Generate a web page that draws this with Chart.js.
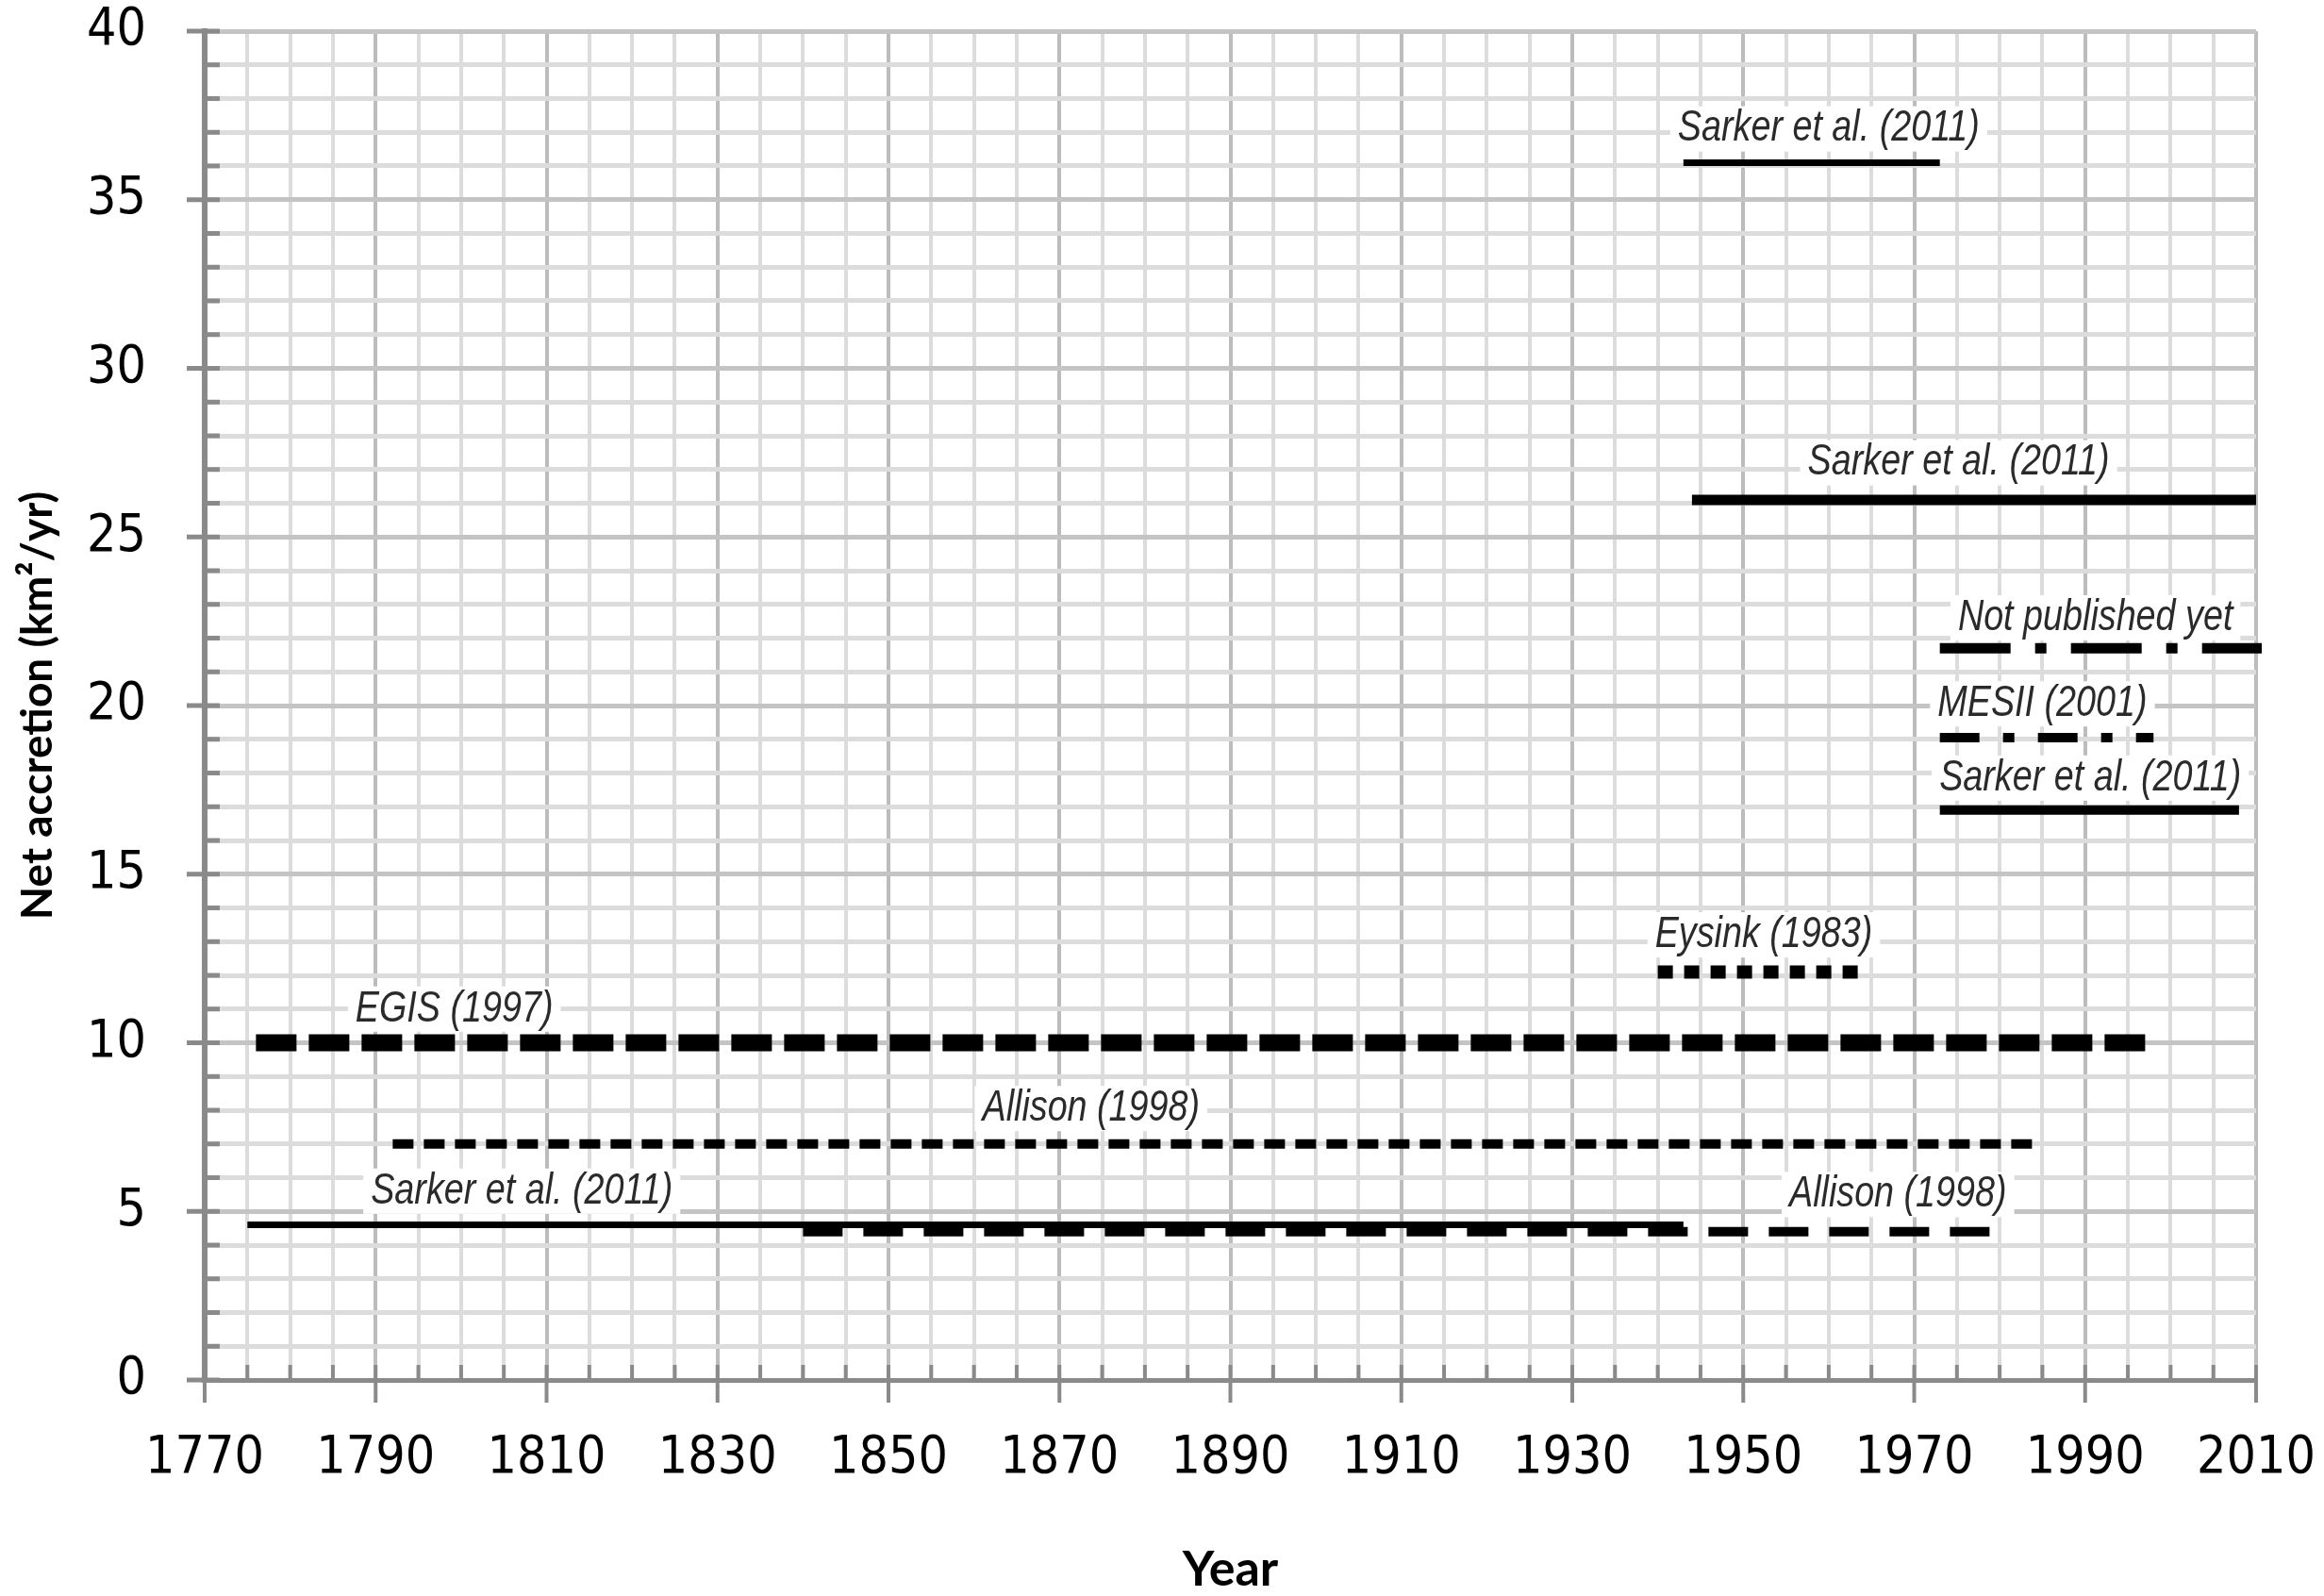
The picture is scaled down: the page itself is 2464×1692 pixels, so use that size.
<!DOCTYPE html>
<html>
<head>
    <title>Net accretion</title>
    <script src="https://cdn.jsdelivr.net/npm/chart.js"></script>
    <style>
        body { margin: 0; background: #fff; }
        #wrap { width: 2464px; height: 1692px; }
    </style>
</head>
<body>
    <div id="wrap"><canvas id="chart" width="2464" height="1692"></canvas></div>

    <script>
        // values
        const sources = ["Sarker et al. (2011)", "Sarker et al. (2011)", "Not published yet", "MESII (2001)",
                         "Sarker et al. (2011)", "Eysink (1983)", "EGIS (1997)", "Allison (1998)",
                         "Sarker et al. (2011)", "Allison (1998)"];
        const startYears = [1943, 1944, 1973, 1973, 1973, 1940, 1776, 1792, 1775, 1840];
        const endYears   = [1973, 2010, 2011, 1998, 2008, 1964, 1998, 1984, 1943, 1981];
        const accretion  = [36.1, 26.1, 21.7, 19.05, 16.9, 12.1, 10.0, 7.0, 4.6, 4.4];

        // where the source names sit (year, value)
        const labelYears  = [1960, 1975.2, 1991.2, 1985, 1990.6, 1952.4, 1799.2, 1873.7, 1807.1, 1968.1];
        const labelValues = [37.1, 27.2, 22.6, 20.05, 17.85, 13.2, 11.0, 8.05, 5.6, 5.5];

        const yearLabels  = [1770, 1790, 1810, 1830, 1850, 1870, 1890, 1910, 1930, 1950, 1970, 1990, 2010];
        const valueLabels = [0, 5, 10, 15, 20, 25, 30, 35, 40];

        // line look per series
        const widths = [7, 11, 11, 10, 10, 14, 18, 10, 7, 10];
        const dashes = [[], [], [75, 26, 12, 26], [42, 25, 12, 25], [], [16, 12], [43, 13], [22, 11], [], [42, 22]];

        const tickFont = { family: "'DejaVu Sans Condensed', 'DejaVu Sans', sans-serif", size: 55 };
        const titleFamily = "Lato, 'DejaVu Sans Condensed', sans-serif";

        const datasets = sources.map((name, i) => ({
            label: name,
            data: [{ x: startYears[i], y: accretion[i] }, { x: endYears[i], y: accretion[i] }],
            borderColor: "#000",
            borderWidth: widths[i],
            borderDash: dashes[i],
            borderCapStyle: "butt",
            pointRadius: 0,
            fill: false,
            clip: 6
        }));

        // tick marks: majors cross the axis, minors only inside
        const axisTicks = {
            id: "axisTicks",
            beforeDatasetsDraw(chart) {
                const { ctx, chartArea, scales: { x, y } } = chart;
                ctx.save();
                ctx.strokeStyle = "#8a8a8a";
                ctx.lineWidth = 5;
                y.ticks.forEach(t => {
                    const py = y.getPixelForValue(t.value);
                    const out = valueLabels.includes(t.value) ? 19 : 0;
                    ctx.beginPath();
                    ctx.moveTo(chartArea.left - out, py);
                    ctx.lineTo(chartArea.left + 16, py);
                    ctx.stroke();
                });
                ctx.lineWidth = 4;
                x.ticks.forEach(t => {
                    const px = x.getPixelForValue(t.value);
                    const out = yearLabels.includes(t.value) ? 24 : 0;
                    ctx.beginPath();
                    ctx.moveTo(px, chartArea.bottom + out);
                    ctx.lineTo(px, chartArea.bottom - 16);
                    ctx.stroke();
                });
                ctx.restore();
            }
        };

        // source names on white boxes
        const sourceLabels = {
            id: "sourceLabels",
            beforeDatasetsDraw(chart) {
                const { ctx, scales: { x, y } } = chart;
                const squeeze = 0.82;
                ctx.save();
                ctx.font = "italic 46px 'Liberation Sans', Arial, sans-serif";
                sources.forEach((text, i) => {
                    const px = x.getPixelForValue(labelYears[i]);
                    const py = y.getPixelForValue(labelValues[i]);
                    const w = ctx.measureText(text).width * squeeze;
                    ctx.fillStyle = "#fff";
                    ctx.fillRect(px - w / 2 - 8, py - 24, w + 16, 48);
                    ctx.save();
                    ctx.translate(px, py);
                    ctx.scale(squeeze, 1);
                    ctx.fillStyle = "#2a2a2a";
                    ctx.textAlign = "center";
                    ctx.textBaseline = "middle";
                    ctx.fillText(text, 0, 0);
                    ctx.restore();
                });
                ctx.restore();
            }
        };

        new Chart(document.getElementById("chart"), {
            type: "line",
            data: { datasets: datasets },
            plugins: [axisTicks, sourceLabels],
            options: {
                responsive: false,
                animation: false,
                devicePixelRatio: 1,
                layout: { padding: { top: 33, right: 72, left: 0, bottom: 0 } },
                plugins: { legend: { display: false }, tooltip: { enabled: false } },
                scales: {
                    x: {
                        type: "linear",
                        min: 1770,
                        max: 2010,
                        afterFit: s => { s.height = 229; },
                        ticks: {
                            stepSize: 5,
                            autoSkip: false,
                            maxRotation: 0,
                            padding: 0,
                            color: "#000",
                            font: tickFont,
                            callback: v => yearLabels.includes(v) ? String(v) : ""
                        },
                        grid: {
                            color: c => c.tick && yearLabels.includes(c.tick.value) ? "#bcbcbc" : "#dcdcdc",
                            lineWidth: 4,
                            tickLength: 51,
                            tickColor: "rgba(0,0,0,0)"
                        },
                        border: { color: "#8a8a8a", width: 5 },
                        title: { display: true, text: "Year", color: "#000",
                                 font: { family: titleFamily, size: 52, weight: "bold", lineHeight: 1 },
                                 padding: { top: 0, bottom: 2 } }
                    },
                    y: {
                        min: 0,
                        max: 40,
                        afterFit: s => { s.width = 217; },
                        ticks: {
                            stepSize: 1,
                            autoSkip: false,
                            padding: 0,
                            color: "#000",
                            font: tickFont,
                            callback: v => valueLabels.includes(v) ? String(v) : ""
                        },
                        grid: {
                            color: c => c.tick && valueLabels.includes(c.tick.value) ? "#c4c4c4" : "#dcdcdc",
                            lineWidth: 5,
                            tickLength: 62,
                            tickColor: "rgba(0,0,0,0)"
                        },
                        border: { color: "#8a8a8a", width: 6 },
                        title: { display: true, text: "Net accretion (km²/yr)", color: "#000",
                                 font: { family: titleFamily, size: 46, weight: "bold", lineHeight: 1 },
                                 padding: { top: 17, bottom: 0 } }
                    }
                }
            }
        });
    </script>
</body>
</html>
